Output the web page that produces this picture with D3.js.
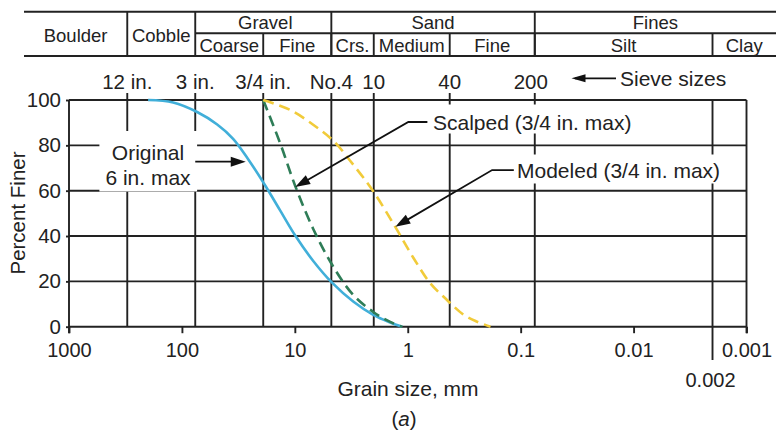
<!DOCTYPE html>
<html><head><meta charset="utf-8">
<script src="https://cdn.jsdelivr.net/npm/d3@7"></script>
<style>
body{margin:0;background:#fff}
svg{display:block}
text{font-family:"Liberation Sans",Arial,Helvetica,sans-serif;fill:#222}
</style>
</head><body>
<svg id="chart" width="776" height="433"></svg>
<script>
// ---------------- data ----------------
const sieveLabels = ["12 in.", "3 in.", "3/4 in.", "No.4", "10", "40", "200"];
const sieveSizes  = [304.8, 76.2, 19.05, 4.75, 2.0, 0.425, 0.075];
const clayLimit = 0.002;
const clayLimitLabel = "0.002";

const xTickValues = [1000, 100, 10, 1, 0.1, 0.01, 0.001];
const xTickLabels = ["1000", "100", "10", "1", "0.1", "0.01", "0.001"];
const yTickValues = [0, 20, 40, 60, 80, 100];

// soil classification table (boundaries in mm)
const mainClasses = ["Boulder", "Cobble", "Gravel", "Sand", "Fines"];
const mainBounds  = [[null, 304.8], [304.8, 76.2], [76.2, 4.75], [4.75, 0.075], [0.075, null]];
const subClasses  = ["Coarse", "Fine", "Crs.", "Medium", "Fine", "Silt", "Clay"];
const subBounds   = [[76.2, 19.05], [19.05, 4.75], [4.75, 2.0], [2.0, 0.425], [0.425, 0.075], [0.075, 0.002], [0.002, null]];

// gradation curves
const originalSize    = [199.3, 119.7, 73.3, 48.7, 35.2, 25.9, 18.3, 13.5, 9.92, 6.87, 4.66, 3.04, 2.02, 1.43, 1.12];
const originalPercent = [100, 98.9, 94.7, 89.2, 82.9, 73.9, 62.3, 51.3, 40.2, 29.0, 19.3, 11.1, 5.2, 1.85, 0];

const scalpedSize    = [19.05, 13.5, 9.92, 6.87, 4.66, 3.04, 2.02, 1.43, 1.12];
const scalpedPercent = [100, 81.0, 62.1, 43.1, 27.2, 14.0, 6.5, 2.1, 0];

const modeledSize    = [19.05, 11.0, 6.83, 4.54, 3.02, 2.0, 1.29, 0.887, 0.63, 0.449, 0.319, 0.243, 0.185];
const modeledPercent = [100, 95.6, 89, 81.9, 71.3, 59.4, 44, 30.2, 19.1, 11.8, 5.2, 2.2, 0];

// ---------------- layout ----------------
const svg = d3.select("#chart");
const L = 69, R = 746.5, T = 100, B = 326.7;
const x = d3.scaleLog().domain([1000, 0.001]).range([L, R]);
const y = d3.scaleLinear().domain([0, 100]).range([B, T]);
const ink = "#222", lw = 1.9;

// ---------------- table ----------------
const tabL = 24, tabR = 776, tabTop = 11.7, tabMid = 33.3, tabBot = 56;
const tab = svg.append("g").attr("stroke", ink).attr("stroke-width", lw);
tab.append("line").attr("x1", tabL).attr("x2", tabR).attr("y1", tabTop).attr("y2", tabTop);
tab.append("line").attr("x1", tabL).attr("x2", tabR).attr("y1", tabBot).attr("y2", tabBot);
tab.append("line").attr("x1", x(76.2)).attr("x2", tabR).attr("y1", tabMid).attr("y2", tabMid);
mainBounds.forEach(b => { if (b[1] !== null) tab.append("line").attr("x1", x(b[1])).attr("x2", x(b[1])).attr("y1", tabTop).attr("y2", tabBot); });
subBounds.forEach(b => { if (b[1] !== null) tab.append("line").attr("x1", x(b[1])).attr("x2", x(b[1])).attr("y1", tabMid).attr("y2", tabBot); });

mainClasses.forEach((c, i) => {
  const b = mainBounds[i];
  const x0 = b[0] === null ? tabL : x(b[0]);
  const x1 = b[1] === null ? tabR : x(b[1]);
  const twoRow = i < 2;
  svg.append("text").attr("x", (x0 + x1) / 2 + (i === 2 ? 2 : 0)).attr("y", twoRow ? 41.5 : 29.3)
    .attr("text-anchor", "middle").attr("font-size", 18.5).text(c);
});
subClasses.forEach((c, i) => {
  const b = subBounds[i];
  const x0 = x(b[0]);
  const x1 = b[1] === null ? tabR : x(b[1]);
  svg.append("text").attr("x", (x0 + x1) / 2).attr("y", 51.5)
    .attr("text-anchor", "middle").attr("font-size", 18.5).text(c);
});

// ---------------- grid ----------------
const grid = svg.append("g").attr("stroke", ink).attr("stroke-width", lw).attr("fill", "none");
yTickValues.forEach(v => grid.append("line").attr("x1", L).attr("x2", R).attr("y1", y(v)).attr("y2", y(v)));
grid.append("line").attr("x1", L).attr("x2", L).attr("y1", T).attr("y2", B + 6.5);
grid.append("line").attr("x1", R).attr("x2", R).attr("y1", T).attr("y2", B + 6.5);
sieveSizes.forEach(s => grid.append("line").attr("x1", x(s)).attr("x2", x(s)).attr("y1", T - 7).attr("y2", B));
grid.append("line").attr("x1", x(clayLimit)).attr("x2", x(clayLimit)).attr("y1", T).attr("y2", 360);

// bottom axis
const xAxis = d3.axisBottom(x).tickValues(xTickValues).tickSize(6.5).tickPadding(10)
  .tickFormat((d, i) => xTickLabels[i]);
const gx = svg.append("g").attr("transform", `translate(0,${B})`).call(xAxis);
gx.select(".domain").remove();
gx.selectAll("line").attr("stroke", ink).attr("stroke-width", lw);
gx.selectAll("text").attr("font-size", 20).attr("font-family", '"Liberation Sans",Arial,sans-serif').attr("fill", ink);

svg.append("text").attr("x", x(clayLimit) - 2).attr("y", 386.7).attr("text-anchor", "middle")
  .attr("font-size", 20).text(clayLimitLabel);

// left axis
const yAxis = d3.axisLeft(y).tickValues(yTickValues).tickSize(3).tickPadding(5);
const gy = svg.append("g").attr("transform", `translate(${L},0)`).call(yAxis);
gy.select(".domain").remove();
gy.selectAll("line").attr("stroke", ink).attr("stroke-width", lw);
gy.selectAll("text").attr("font-size", 20.5).attr("font-family", '"Liberation Sans",Arial,sans-serif').attr("fill", ink);

// sieve labels on top
sieveLabels.forEach((s, i) => {
  svg.append("text").attr("x", x(sieveSizes[i]) - (i === 6 ? 4 : 0)).attr("y", 89)
    .attr("text-anchor", "middle").attr("font-size", 20.5).text(s);
});

function arrowHead(g, tipX, tipY, fromX, fromY, len = 14, hw = 4.5) {
  const a = Math.atan2(tipY - fromY, tipX - fromX);
  const bx = tipX - len * Math.cos(a), by = tipY - len * Math.sin(a);
  const px = -Math.sin(a) * hw, py = Math.cos(a) * hw;
  g.append("path").attr("d", `M${tipX},${tipY}L${bx + px},${by + py}L${bx - px},${by - py}Z`)
    .attr("fill", "#111").attr("stroke", "none");
}
const ann = svg.append("g");
ann.append("line").attr("x1", 575).attr("x2", 616).attr("y1", 78.3).attr("y2", 78.3).attr("stroke", "#111").attr("stroke-width", 1.8);
arrowHead(ann, 571.5, 78.3, 616, 78.3, 14, 4);
svg.append("text").attr("x", 620).attr("y", 85.7).attr("font-size", 21).text("Sieve sizes");

// axis titles
svg.append("text").attr("transform", "translate(25,213) rotate(-90)").attr("text-anchor", "middle")
  .attr("font-size", 20.5).text("Percent Finer");
svg.append("text").attr("x", 408).attr("y", 396).attr("text-anchor", "middle")
  .attr("font-size", 21).text("Grain size, mm");
const cap = svg.append("text").attr("x", 404).attr("y", 426).attr("text-anchor", "middle").attr("font-size", 20.5);
cap.append("tspan").text("(");
cap.append("tspan").attr("font-style", "italic").text("a");
cap.append("tspan").text(")");

// ---------------- labels with white boxes ----------------
function boxedText(lines, xPos, baselines, anchor, fs, padX, padTop, padBot) {
  const g = svg.append("g");
  const rect = g.append("rect").attr("fill", "#fff");
  lines.forEach((t, i) => g.append("text").attr("x", xPos).attr("y", baselines[i])
    .attr("text-anchor", anchor).attr("font-size", fs).text(t));
  const bb = g.node().getBBox();
  rect.attr("x", bb.x - padX).attr("y", bb.y - padTop).attr("width", bb.width + 2 * padX)
    .attr("height", bb.height + padTop + padBot);
  return g;
}
boxedText(["Original", "6 in. max"], 148, [160, 184.5], "middle", 21, 6, 10, 3);
boxedText(["Scalped (3/4 in. max)"], 433, [129.5], "start", 21, 4, 6, 0);
boxedText(["Modeled (3/4 in. max)"], 517, [177.5], "start", 21, 4, 4, 2);

// ---------------- curves ----------------
const line = d3.line().x(d => x(d[0])).y(d => y(d[1])).curve(d3.curveCatmullRom.alpha(0.5));
const curves = [
  {s: originalSize, p: originalPercent, c: "#41afd9", dash: null},
  {s: scalpedSize, p: scalpedPercent, c: "#2e7d57", dash: "11,6"},
  {s: modeledSize, p: modeledPercent, c: "#f1cb3a", dash: "11,6"}
];
curves.forEach(cv => {
  svg.append("path").datum(d3.zip(cv.s, cv.p)).attr("d", line)
    .attr("fill", "none").attr("stroke", cv.c).attr("stroke-width", 2.6)
    .attr("stroke-dasharray", cv.dash);
});

// ---------------- annotation arrows ----------------
const ar = svg.append("g").attr("stroke", "#111").attr("stroke-width", 1.8).attr("fill", "none");
const oTip = [x(27.2), y(72.8)], oTail = [x(76.2), y(72.8)];
ar.append("line").attr("x1", oTail[0]).attr("y1", oTail[1]).attr("x2", oTip[0] - 10).attr("y2", oTip[1]);
arrowHead(svg, oTip[0], oTip[1], oTail[0], oTail[1], 15, 5);
const sTip = [x(9.92), y(61.6)], sElb = [x(0.988), y(90.3)], sEnd = [x(0.67), y(90.3)];
ar.append("path").attr("d", `M${sEnd[0]},${sEnd[1]}L${sElb[0]},${sElb[1]}L${sTip[0] + 8},${sTip[1] - 4.6}`);
arrowHead(svg, sTip[0], sTip[1], sElb[0], sElb[1], 15, 5);
const mTip = [x(1.288), y(44.1)], mElb = [x(0.179), y(69.1)], mEnd = [x(0.115), y(69.1)];
ar.append("path").attr("d", `M${mEnd[0]},${mEnd[1]}L${mElb[0]},${mElb[1]}L${mTip[0] + 8},${mTip[1] - 4.6}`);
arrowHead(svg, mTip[0], mTip[1], mElb[0], mElb[1], 15, 5);
</script>
</body></html>
